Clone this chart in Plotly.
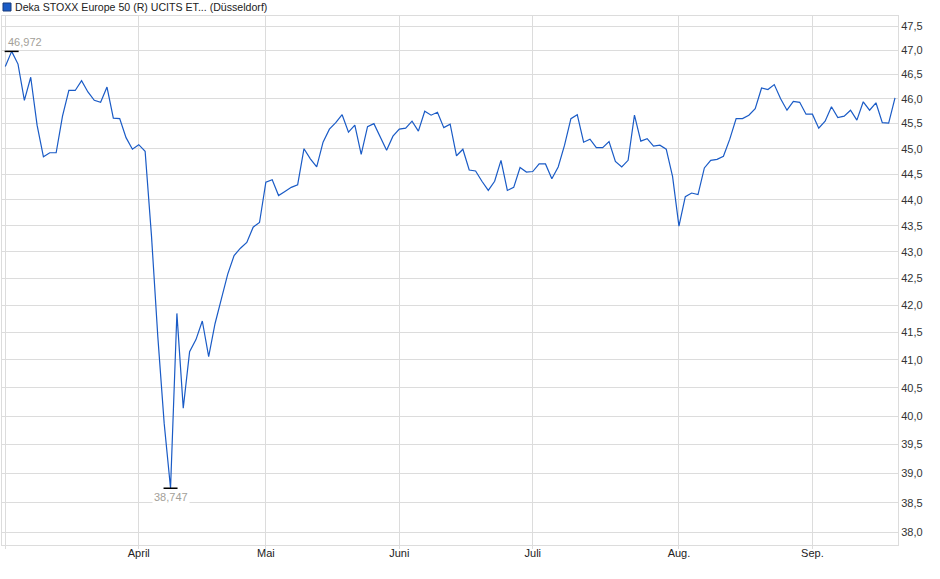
import numpy as np
import plotly.graph_objects as go

# closing prices per month (trading days only)
march = [46.66, 46.972, 46.71, 45.97, 46.44, 45.47, 44.84, 44.92, 44.92, 45.65, 46.17,
         46.17, 46.37, 46.14, 45.97, 45.93, 46.24, 45.61, 45.60, 45.22, 44.99]
april = [45.08, 44.95, 43.31, 41.42, 39.87, 38.747, 41.85, 40.14, 41.15, 41.37,
         41.71, 41.06, 41.66, 42.12, 42.58, 42.93, 43.07, 43.18, 43.47, 43.56]
may = [44.34, 44.39, 44.08, 44.16, 44.24, 44.29, 45.00, 44.80, 44.64, 45.13, 45.39,
       45.52, 45.68, 45.33, 45.47, 44.89, 45.44, 45.50, 45.25, 44.97, 45.25]
june = [45.39, 45.41, 45.55, 45.35, 45.75, 45.67, 45.73, 45.42, 45.49, 44.86, 44.99,
        44.58, 44.56, 44.36, 44.18, 44.36, 44.77, 44.18, 44.24, 44.63, 44.54]
july = [44.55, 44.70, 44.70, 44.41, 44.64, 45.07, 45.60, 45.68, 45.13, 45.19, 45.02,
        45.02, 45.14, 44.75, 44.64, 44.77, 45.67, 45.15, 45.20, 45.05, 45.07, 44.99, 44.45]
august = [43.49, 44.06, 44.13, 44.10, 44.62, 44.77, 44.79, 44.85, 45.19, 45.60, 45.60,
          45.67, 45.80, 46.22, 46.19, 46.29, 46.00, 45.77, 45.95, 45.93, 45.69]
september = [45.69, 45.41, 45.55, 45.84, 45.62, 45.65, 45.77, 45.57, 45.94, 45.77,
             45.92, 45.52, 45.51, 46.02]

months = [march, april, may, june, july, august, september]
month_labels = ["", "April", "Mai", "Juni", "Juli", "Aug.", "Sep."]
y_ticks = [38.0, 38.5, 39.0, 39.5, 40.0, 40.5, 41.0, 41.5, 42.0, 42.5, 43.0,
           43.5, 44.0, 44.5, 45.0, 45.5, 46.0, 46.5, 47.0, 47.5]
name = "Deka STOXX Europe 50 (R) UCITS ET... (Düsseldorf)"

values = [v for m in months for v in m]
x = list(range(len(values)))
month_starts = list(np.cumsum([0] + [len(m) for m in months[:-1]]))

i_max = int(np.argmax(values))
i_min = int(np.argmin(values))

def de(v, d):
    return f"{v:.{d}f}".replace(".", ",")

blue = "#1a5bc6"
grid = "#dcdcdc"
font = "Arial, Liberation Sans, sans-serif"

fig = go.Figure()
fig.add_trace(go.Scatter(x=x, y=values, mode="lines",
                         line=dict(color=blue, width=1.2), hoverinfo="skip",
                         showlegend=False))
# high / low markers
fig.add_trace(go.Scatter(x=[i_max, i_min], y=[values[i_max], values[i_min]],
                         mode="markers",
                         marker=dict(symbol="line-ew", size=10,
                                     line=dict(color="black", width=1.5)),
                         showlegend=False, hoverinfo="skip"))

fig.add_annotation(x=i_max, y=np.log10(values[i_max]), text=de(values[i_max], 3),
                   showarrow=False, xanchor="left", yanchor="bottom", xshift=-6, yshift=1,
                   font=dict(family=font, size=11, color="#a39f99"))
fig.add_annotation(x=i_min, y=np.log10(values[i_min]), text=de(values[i_min], 3),
                   showarrow=False, xanchor="center", yanchor="top", yshift=-1,
                   bgcolor="white",
                   font=dict(family=font, size=11, color="#a39f99"))

# legend box + title text
W, H = 896, 529
fig.add_shape(type="rect", xref="paper", yref="paper",
              x0=1 / W, x1=9 / W, y0=(529 + 16 - 11) / H, y1=(529 + 16 - 3) / H,
              fillcolor=blue, line=dict(color="#173a7a", width=1))
fig.add_annotation(xref="paper", yref="paper", x=11 / W, y=(529 + 16 - 7) / H,
                   text=name, showarrow=False, xanchor="left", yanchor="middle",
                   font=dict(family=font, size=10.6, color="#222222"))

fig.update_layout(
    width=940, height=579,
    margin=dict(l=2, r=42, t=16, b=34),
    paper_bgcolor="white", plot_bgcolor="white",
    font=dict(family=font, size=11, color="#333333"),
    xaxis=dict(range=[-0.52, len(values) - 1 + 0.47],
               tickvals=month_starts, ticktext=month_labels,
               showgrid=True, gridcolor=grid, gridwidth=1,
               ticks="outside", ticklen=3, tickcolor=grid,
               ticklabelstandoff=-5,
               showline=True, linecolor=grid, mirror=True, zeroline=False,
               tickfont=dict(family=font, size=11, color="#222222")),
    yaxis=dict(type="log", side="right",
               range=[np.log10(37.79), np.log10(47.71)],
               tickvals=y_ticks, ticktext=[de(t, 1) for t in y_ticks],
               showgrid=True, gridcolor=grid, gridwidth=1,
               ticks="", showline=True, linecolor=grid, mirror=True,
               zeroline=False,
               tickfont=dict(family=font, size=11, color="#333333")),
)

fig.write_html("out.html", config={"displayModeBar": False},
               post_script="document.body.style.margin='0';")
